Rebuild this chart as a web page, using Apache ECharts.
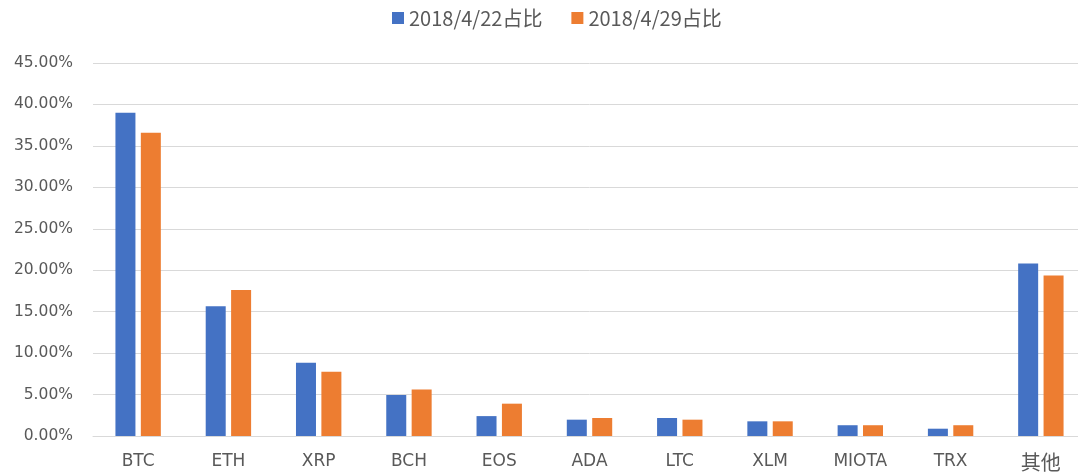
<!DOCTYPE html>
<html>
<head>
<meta charset="utf-8">
<script src="https://cdn.jsdelivr.net/npm/echarts@6/dist/echarts.min.js"></script>
<style>
  html, body { margin: 0; padding: 0; background: #fff; overflow: hidden; }
  /* 画布比窗口宽一点，右侧网格线要延伸出窗口 */
  #chart { width: 1090px; height: 476px; }
</style>
</head>
<body>
<div id="chart"></div>
<script>
// 币种
const categories = ['BTC', 'ETH', 'XRP', 'BCH', 'EOS', 'ADA', 'LTC', 'XLM', 'MIOTA', 'TRX', '其他']
// 占比 (%)
const share0422 = [39.0, 15.66, 8.83, 4.95, 2.4, 1.97, 2.17, 1.77, 1.3, 0.88, 20.8]
const share0429 = [36.6, 17.6, 7.74, 5.6, 3.9, 2.17, 1.97, 1.77, 1.3, 1.3, 19.36]
const seriesNames = ['2018/4/22占比', '2018/4/29占比']

const chart = echarts.init(document.getElementById('chart'))
const textColor = '#595959'
const cjkFont = '"Noto Sans CJK SC", sans-serif'
const latinFont = '"DejaVu Sans", "Noto Sans CJK SC", sans-serif'

chart.setOption({
  animation: false,
  legend: {
    top: 3,
    left: 387,
    icon: 'rect',
    itemWidth: 12,
    itemHeight: 12,
    itemGap: 29,
    textStyle: { color: textColor, fontSize: 20, fontFamily: cjkFont },
    data: seriesNames
  },
  grid: {
    left: 93,
    right: 4,
    top: 63,
    bottom: 40
  },
  xAxis: {
    type: 'category',
    data: categories,
    axisLine: { lineStyle: { color: '#d9d9d9', width: 1 } },
    axisTick: { show: false },
    axisLabel: {
      interval: 0,
      color: textColor,
      fontSize: 17,
      lineHeight: 20,
      margin: 16,
      fontFamily: latinFont,
      // 中文标签用大一点的字体
      formatter: v => /[\u4e00-\u9fff]/.test(v) ? '{cn|' + v + '}' : v,
      rich: {
        cn: { fontSize: 20, lineHeight: 20, fontFamily: cjkFont, color: textColor }
      }
    }
  },
  yAxis: {
    type: 'value',
    min: 0,
    max: 45,
    interval: 5,
    axisLine: { show: false },
    axisTick: { show: false },
    splitLine: { lineStyle: { color: '#d9d9d9', width: 1 } },
    axisLabel: {
      color: textColor,
      fontSize: 15.5,
      margin: 20,
      fontFamily: latinFont,
      formatter: v => v.toFixed(2) + '%'
    }
  },
  series: [
    {
      name: seriesNames[0],
      type: 'bar',
      data: share0422,
      barWidth: 20,
      barGap: '27%',
      itemStyle: { color: '#4472C4' }
    },
    {
      name: seriesNames[1],
      type: 'bar',
      data: share0429,
      barWidth: 20,
      itemStyle: { color: '#ED7D31' }
    }
  ]
})
</script>
</body>
</html>
